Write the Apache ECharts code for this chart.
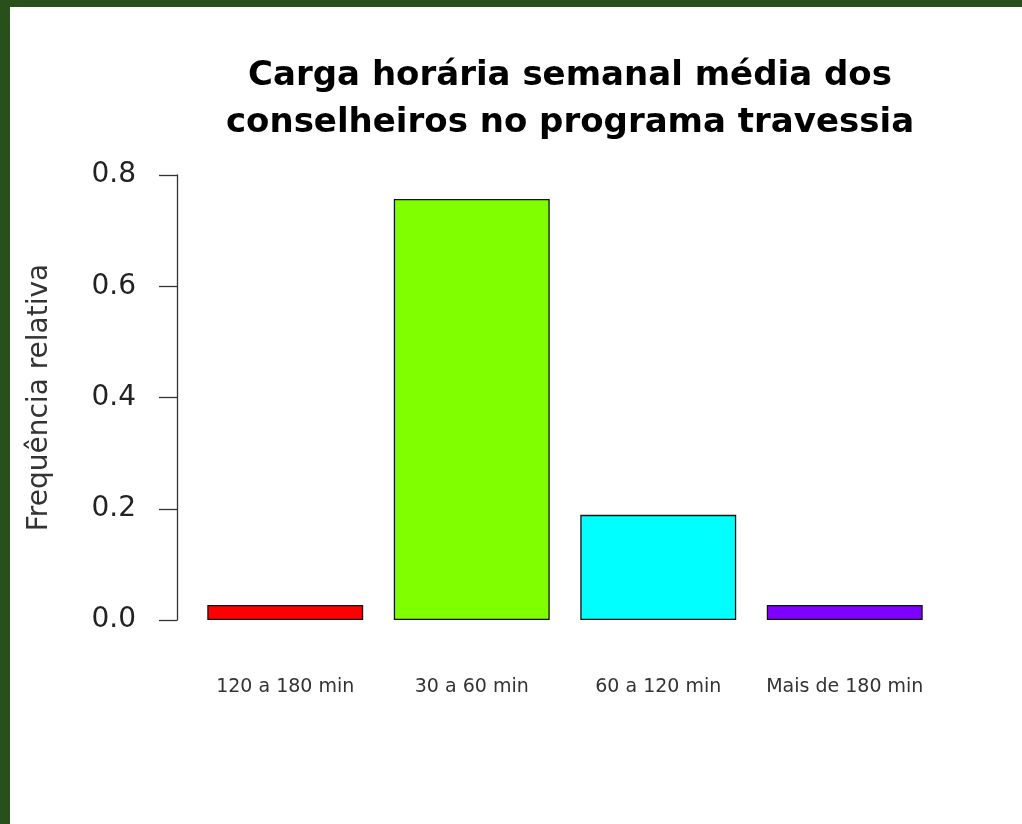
<!DOCTYPE html>
<html>
<head>
<meta charset="utf-8">
<script src="https://cdn.jsdelivr.net/npm/echarts@6/dist/echarts.min.js"></script>
<style>
  html, body { margin: 0; padding: 0; background: #fff; }
  #chart { position: absolute; left: 0; top: 0; width: 1022px; height: 824px; }
  .edge { position: absolute; background: #28501a; }
</style>
</head>
<body>
<div id="chart"></div>
<div class="edge" style="left:0;top:0;width:1022px;height:7px"></div>
<div class="edge" style="left:0;top:0;width:10px;height:824px"></div>
<script>
  // categories and relative frequencies
  const categories = ['120 a 180 min', '30 a 60 min', '60 a 120 min', 'Mais de 180 min']
  const frequencies = [0.027, 0.757, 0.189, 0.027]
  const barColors = ['#ff0000', '#80ff00', '#00ffff', '#8000ff']
  const yTicks = [0, 0.2, 0.4, 0.6, 0.8]

  const chart = echarts.init(document.getElementById('chart'))
  chart.setOption({
    animation: false,
    title: {
      text: 'Carga horária semanal média dos\nconselheiros no programa travessia',
      left: 565,
      top: 48,
      textAlign: 'center',
      textStyle: {
        fontFamily: 'DejaVu Sans',
        fontWeight: 'bold',
        fontSize: 34,
        lineHeight: 47,
        color: '#000'
      }
    },
    grid: {
      left: 192,
      right: 84,
      top: 175,
      bottom: 204
    },
    xAxis: {
      type: 'category',
      data: categories,
      axisLine: { show: false },
      axisTick: { show: false },
      axisLabel: {
        interval: 0,
        margin: 58,
        fontFamily: 'DejaVu Sans',
        fontSize: 19,
        color: '#333'
      }
    },
    yAxis: {
      type: 'value',
      min: 0,
      max: 0.8,
      interval: 0.2,
      offset: 15,
      name: 'Frequência relativa',
      nameLocation: 'middle',
      nameRotate: 90,
      nameGap: 123,
      nameTextStyle: {
        fontFamily: 'DejaVu Sans',
        fontSize: 28,
        color: '#333'
      },
      splitLine: { show: false },
      axisLine: { show: true, lineStyle: { color: '#333', width: 1.3 } },
      axisTick: { show: true, length: 18, lineStyle: { color: '#333', width: 1.3 } },
      axisLabel: {
        margin: 41,
        fontFamily: 'DejaVu Sans',
        fontSize: 28,
        color: '#222',
        formatter: v => yTicks.includes(Math.round(v * 10) / 10) ? v.toFixed(1) : ''
      }
    },
    series: [{
      type: 'bar',
      barWidth: '83.6%',
      data: frequencies.map((v, i) => ({
        value: v,
        itemStyle: { color: barColors[i] }
      })),
      itemStyle: {
        borderColor: '#111',
        borderWidth: 1.3
      }
    }]
  })
</script>
</body>
</html>
